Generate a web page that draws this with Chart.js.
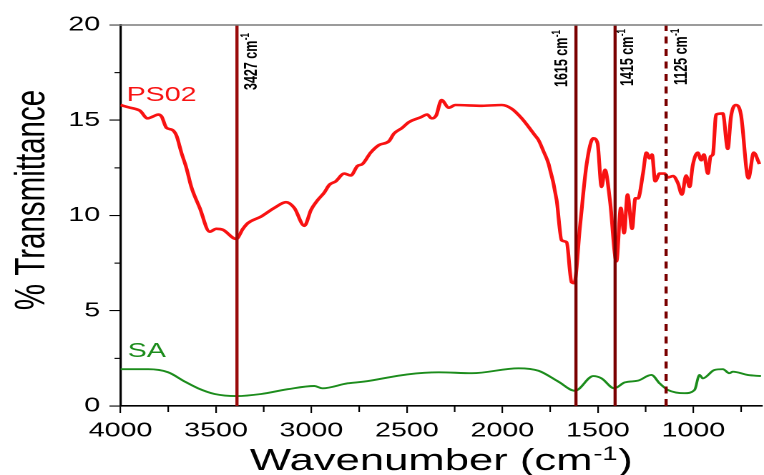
<!DOCTYPE html>
<html>
<head>
<meta charset="utf-8">
<script src="https://cdn.jsdelivr.net/npm/chart.js@4.4.1/dist/chart.umd.min.js"></script>
<style>
  html, body { margin: 0; padding: 0; background: #fff; overflow: hidden; }
  #wrap { position: absolute; left: 0; top: 0; width: 534px; height: 475px;
          transform: scaleX(1.4307); transform-origin: 0 0; }
</style>
</head>
<body>
<div id="wrap"><canvas id="c"></canvas></div>
<script>
// ---- data ----
const ps02Wavenumber = [4000,3950,3924,3898,3858,3829,3803,3785,3759,3730,3707,3681,3655,3629,3585,3533,3498,3464,3394,3359,3333,3263,3194,3133,3090,3037,3002,2968,2933,2907,2872,2829,2794,2759,2733,2690,2646,2594,2568,2525,2490,2429,2394,2371,2347,2319,2281,2246,2107,2003,1951,1899,1829,1811,1784,1758,1716,1690,1664,1638,1624,1594,1559,1524,1502,1481,1463,1437,1403,1380,1363,1345,1321,1304,1290,1264,1246,1229,1217,1200,1177,1151,1133,1107,1081,1060,1038,1020,1003,977,959,945,924,910,898,881,846,820,803,777,751,712,684,654];
const ps02Transmittance = [15.8,15.66,15.6,15.5,15.1,15.2,15.3,15.2,14.6,14.5,14.2,13.3,12.5,11.5,10.4,9.15,9.3,9.25,8.77,9.3,9.6,9.95,10.4,10.7,10.4,9.46,10.3,10.8,11.2,11.6,11.8,12.2,12.1,12.6,12.7,13.3,13.7,13.9,14.3,14.6,14.9,15.15,15.3,15.1,15.25,16.06,15.66,15.8,15.76,15.8,15.6,15.1,14.2,13.96,13.35,12.7,10.8,8.7,8.6,6.5,6.45,9.4,12.7,14.05,13.8,11.5,12.4,10.8,7.6,10.4,9.07,11.1,9.3,10.9,10.9,12.2,13.3,13.0,13.2,11.8,12.2,12.2,12.0,12.07,11.7,11.1,12.1,11.5,12.65,13.3,12.9,13.2,12.2,13.1,13.2,15.3,15.36,13.5,15.2,15.8,15.3,11.95,13.3,12.7];

const saWavenumber = [4000,3855,3751,3663,3594,3507,3394,3263,3124,2985,2942,2811,2724,2498,2333,2159,1916,1811,1707,1620,1524,1481,1415,1359,1290,1220,1177,1133,1046,994,968,951,890,846,811,794,716,646];
const saTransmittance = [1.93,1.93,1.77,1.28,0.93,0.63,0.52,0.63,0.88,1.05,0.93,1.19,1.28,1.66,1.77,1.72,1.98,1.85,1.28,0.8,1.57,1.45,0.93,1.24,1.33,1.63,1.19,0.84,0.67,0.84,1.63,1.45,1.89,1.93,1.72,1.8,1.63,1.57];

const markerWavenumbers = [3390, 1615, 1410, 1143];
const markerLabels = ['3427', '1615', '1415', '1125'];

const xTicks = [1000, 1500, 2000, 2500, 3000, 3500, 4000];
const xMinorTicks = [750, 1250, 1750, 2250, 2750, 3250, 3750];
const yTicks = [0, 5, 10, 15, 20];
const yMinorTicks = [2.5, 7.5, 12.5, 17.5];

// ---- styles ----
const FONT = '"Liberation Sans", Arial, sans-serif';
const RED = 'rgb(248,18,18)';
const GREEN = 'rgb(28,140,28)';
const markerColors = ['#9a0a0a', '#7a0000', '#7a0000', '#7a0000'];
const markerDash = [[], [], [], [7, 5.5]];

const toXY = (xs, ys) => xs.map((x, i) => ({ x: x, y: ys[i] }));

const datasets = [
  { data: toXY(ps02Wavenumber, ps02Transmittance), borderColor: RED, borderWidth: 2.6,
    pointRadius: 0, cubicInterpolationMode: 'monotone', order: 2 },
  { data: toXY(saWavenumber, saTransmittance), borderColor: GREEN, borderWidth: 1.9,
    pointRadius: 0, cubicInterpolationMode: 'monotone', order: 2 }
];
markerWavenumbers.forEach((w, i) => {
  datasets.push({ data: [{ x: w, y: 0 }, { x: w, y: 20 }], borderColor: markerColors[i],
    borderWidth: 2.2, borderDash: markerDash[i], pointRadius: 0, order: 1 });
});

const deco = {
  id: 'deco',
  afterDraw(chart) {
    const { ctx, chartArea: a, scales: { x, y } } = chart;
    ctx.save();
    // top frame line
    ctx.strokeStyle = '#7a7a7a'; ctx.lineWidth = 1.5;
    ctx.beginPath(); ctx.moveTo(a.left - 7.7, a.top); ctx.lineTo(a.right, a.top); ctx.stroke();
    // minor ticks
    ctx.strokeStyle = '#000'; ctx.lineWidth = 1.1;
    xMinorTicks.forEach(v => {
      const px = x.getPixelForValue(v);
      ctx.beginPath(); ctx.moveTo(px, a.bottom); ctx.lineTo(px, a.bottom + 6); ctx.stroke();
    });
    yMinorTicks.forEach(v => {
      const py = y.getPixelForValue(v);
      ctx.beginPath(); ctx.moveTo(a.left, py); ctx.lineTo(a.left - 4.2, py); ctx.stroke();
    });
    // series labels
    ctx.font = '20px ' + FONT; ctx.textBaseline = 'alphabetic'; ctx.textAlign = 'left';
    ctx.fillStyle = RED; ctx.fillText('PS02', x.getPixelForValue(3968), y.getPixelForValue(16.0));
    ctx.fillStyle = GREEN; ctx.fillText('SA', x.getPixelForValue(3962), y.getPixelForValue(2.57));
    // marker labels
    const side = [10.5, -9.3, 9.3, 10.9];
    const start = [90, 87, 86, 85];
    markerWavenumbers.forEach((w, i) => {
      const px = x.getPixelForValue(w) + side[i];
      ctx.save();
      ctx.translate(px, start[i]); ctx.rotate(-Math.PI / 2);
      ctx.fillStyle = '#000'; ctx.textBaseline = 'middle'; ctx.textAlign = 'left';
      ctx.font = 'bold 12.5px ' + FONT;
      const main = markerLabels[i] + ' cm';
      ctx.fillText(main, 0, 0);
      const wm = ctx.measureText(main).width;
      ctx.font = 'bold 8px ' + FONT;
      ctx.fillText('-1', wm + 0.5, -4.2);
      ctx.restore();
    });
    // x title
    ctx.fillStyle = '#000'; ctx.textBaseline = 'alphabetic'; ctx.textAlign = 'left';
    const t1 = 'Wavenumber (cm', t2 = '-1', t3 = ')';
    ctx.font = '30.5px ' + FONT; const w1 = ctx.measureText(t1).width, w3 = ctx.measureText(t3).width;
    ctx.font = '19px ' + FONT; const w2 = ctx.measureText(t2).width;
    let tx = (a.left + a.right) / 2 - (w1 + w2 + w3 + 1) / 2;
    ctx.font = '30.5px ' + FONT; ctx.fillText(t1, tx, 470); tx += w1 + 0.5;
    ctx.font = '19px ' + FONT; ctx.fillText(t2, tx, 460); tx += w2 + 0.5;
    ctx.font = '30.5px ' + FONT; ctx.fillText(t3, tx, 470);
    // y title
    ctx.save();
    ctx.translate(31, 200); ctx.rotate(-Math.PI / 2);
    ctx.textAlign = 'center'; ctx.font = '29.5px ' + FONT;
    ctx.fillText('% Transmittance', 0, 0);
    ctx.restore();
    ctx.restore();
  }
};

new Chart(document.getElementById('c'), {
  type: 'line',
  data: { datasets: datasets },
  options: {
    responsive: true, maintainAspectRatio: false, animation: false, devicePixelRatio: 2,
    layout: { padding: { top: 25, right: 0, left: 0, bottom: 0 } },
    plugins: { legend: { display: false }, tooltip: { enabled: false } },
    scales: {
      x: {
        type: 'linear', reverse: true, min: 640, max: 4000,
        afterBuildTicks: s => { s.ticks = xTicks.map(v => ({ value: v })); },
        afterFit: s => { s.height = 69; },
        ticks: { font: { family: FONT, size: 20 }, color: '#000', padding: 6, maxRotation: 0,
                 autoSkip: false, callback: v => String(v) },
        grid: { drawOnChartArea: false, tickLength: 7, color: '#000', lineWidth: 1.1 },
        border: { color: '#000', width: 1.6 }
      },
      y: {
        min: 0, max: 20,
        afterBuildTicks: s => { s.ticks = yTicks.map(v => ({ value: v })); },
        afterFit: s => { s.width = 84.2; },
        ticks: { font: { family: FONT, size: 20 }, color: '#000', padding: 6.5, callback: v => String(v) },
        grid: { drawOnChartArea: false, tickLength: 7.7, color: '#000', lineWidth: 1.1 },
        border: { color: '#000', width: 1.6 }
      }
    }
  },
  plugins: [deco]
});
</script>
</body>
</html>
